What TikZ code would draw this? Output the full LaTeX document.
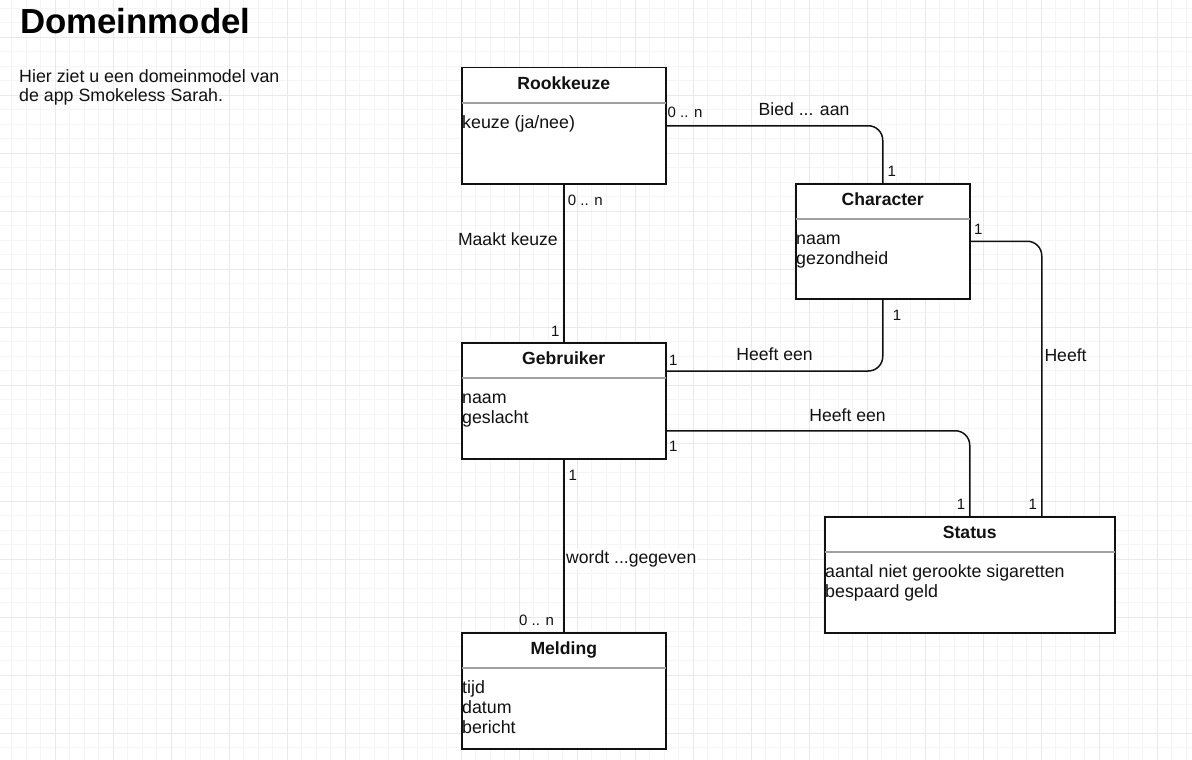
\documentclass[tikz,border=0pt]{standalone}
\usepackage{fontspec}
\setmainfont{Liberation Sans}
\definecolor{gridminor}{HTML}{F5F5F5}
\definecolor{gridmajor}{HTML}{E9E9E9}
\definecolor{ink}{HTML}{111111}
\definecolor{sepgray}{HTML}{A0A0A0}
\tikzset{
  umlbox/.style={draw=ink, line width=1.5pt, fill=white, rectangle, anchor=north west, inner sep=0pt},
  sepline/.style={draw=sepgray, line width=1.2pt},
  ttl/.style={anchor=base, inner sep=0pt, font=\fontsize{17.6}{20}\selectfont\bfseries, text=ink},
  attr/.style={anchor=base west, inner sep=0pt, font=\fontsize{17.8}{20}\selectfont, text=ink},
  elabel/.style={inner sep=0pt, font=\fontsize{17.6}{20}\selectfont, text=ink},
  mult/.style={anchor=base west, inner sep=0pt, font=\fontsize{15}{16}\selectfont, text=ink},
  conn/.style={draw=ink, line width=1.5pt, rounded corners=14.5pt},
  minorline/.style={draw=gridminor, line width=0.8pt},
  majorline/.style={draw=gridmajor, line width=0.9pt},
}
\begin{document}
\begin{tikzpicture}[x=1pt,y=-1pt]
\useasboundingbox (0,0) rectangle (1192,760);
\fill[white] (0,0) rectangle (1192,760);
% grid
\foreach \i in {0,...,53} \draw[minorline] (0,{-6.2+14.5*\i}) -- (1192,{-6.2+14.5*\i});
\foreach \i in {1,...,82} \draw[minorline] ({-3+14.5*\i},0) -- ({-3+14.5*\i},760);
\foreach \i in {0,...,12} \draw[majorline] (0,{37.3+58*\i}) -- (1192,{37.3+58*\i});
\foreach \i in {1,...,20} \draw[majorline] ({-3+58*\i},0) -- ({-3+58*\i},760);

% title and description
\node[anchor=base west, inner sep=0pt, font=\fontsize{34.8}{40}\selectfont\bfseries] (title) at (20,33.3) {Domeinmodel};
\node[attr] (desc1) at (19,82.7) {Hier ziet u een domeinmodel van};
\node[attr] (desc2) at (19,101.7) {de app Smokeless Sarah.};

% boxes
\node[umlbox, minimum width=204pt, minimum height=116pt] (rook) at (461,67) {};
\node[umlbox, minimum width=174pt, minimum height=115pt] (char) at (795,183) {};
\node[umlbox, minimum width=204pt, minimum height=116pt] (geb) at (461,342) {};
\node[umlbox, minimum width=290pt, minimum height=116pt] (stat) at (824,516) {};
\node[umlbox, minimum width=204pt, minimum height=116pt] (mel) at (461,632) {};

% separators
\foreach \b in {rook,char,geb,stat,mel}
  \draw[sepline] ([yshift=-36pt,xshift=0.75pt]\b.north west) -- ([yshift=-36pt,xshift=-0.75pt]\b.north east);

% titles
\node[ttl] (rook-t) at ([yshift=-22.3pt]rook.north) {Rookkeuze};
\node[ttl] (char-t) at ([yshift=-22.3pt]char.north) {Character};
\node[ttl] (geb-t) at ([yshift=-22.3pt]geb.north) {Gebruiker};
\node[ttl] (stat-t) at ([yshift=-22.3pt]stat.north) {Status};
\node[ttl] (mel-t) at ([yshift=-22.3pt]mel.north) {Melding};

% attributes
\node[attr] (rook-a1) at ([xshift=1pt,yshift=-61.5pt]rook.north west) {keuze (ja/nee)};
\node[attr] (char-a1) at ([xshift=1pt,yshift=-61.5pt]char.north west) {naam};
\node[attr] (char-a2) at ([xshift=1pt,yshift=-81.3pt]char.north west) {gezondheid};
\node[attr] (geb-a1) at ([xshift=1pt,yshift=-61.5pt]geb.north west) {naam};
\node[attr] (geb-a2) at ([xshift=1pt,yshift=-81.5pt]geb.north west) {geslacht};
\node[attr] (stat-a1) at ([xshift=1pt,yshift=-61.5pt]stat.north west) {aantal niet gerookte sigaretten};
\node[attr] (stat-a2) at ([xshift=1pt,yshift=-81.5pt]stat.north west) {bespaard geld};
\node[attr] (mel-a1) at ([xshift=1pt,yshift=-61.5pt]mel.north west) {tijd};
\node[attr] (mel-a2) at ([xshift=1pt,yshift=-81.5pt]mel.north west) {datum};
\node[attr] (mel-a3) at ([xshift=1pt,yshift=-101.5pt]mel.north west) {bericht};

% connector anchor points
\coordinate (geb-up) at ([yshift=-29pt]geb.north east);
\coordinate (geb-lo) at ([yshift=-30pt]geb.east);
\coordinate (stat-r) at ([xshift=72pt]stat.north);

% connectors
\draw[conn] (rook.east) -| (char.north);
\draw[conn] (rook.south) -- (geb.north);
\draw[conn] (char.south) |- (geb-up);
\draw[conn] (char.east) -| (stat-r);
\draw[conn] (geb-lo) -| (stat.north);
\draw[conn] (geb.south) -- (mel.north);

% association labels
\node[elabel, anchor=base] (lbl-bied) at (804,115) {Bied ... aan};
\node[elabel, anchor=base east] (lbl-maakt) at (558,245) {Maakt keuze};
\node[elabel, anchor=base] (lbl-heeft1) at (774.5,360.7) {Heeft een};
\node[elabel, anchor=base west] (lbl-heeft2) at (1044.3,361) {Heeft};
\node[elabel, anchor=base] (lbl-heeft3) at (847.5,421.7) {Heeft een};
\node[elabel, anchor=base west, fill=white, inner xsep=1pt, inner ysep=2pt] (lbl-wordt) at (565,563.3) {wordt ...gegeven};

% multiplicities
\node[mult] (m1) at (667.5,117.7) {0 .. n};
\node[mult] (m2) at (887.3,176) {1};
\node[mult] (m3) at (567.7,205) {0 .. n};
\node[mult] (m4) at (551,336) {1};
\node[mult] (m5) at (974,234) {1};
\node[mult] (m6) at (892.7,320.5) {1};
\node[mult] (m7) at (669,365) {1};
\node[mult] (m8) at (669,451.7) {1};
\node[mult] (m9) at (956.7,509.3) {1};
\node[mult] (m10) at (1028.3,509.3) {1};
\node[mult] (m11) at (568.3,480.7) {1};
\node[mult] (m12) at (519,625.7) {0 .. n};
\end{tikzpicture}
\end{document}
